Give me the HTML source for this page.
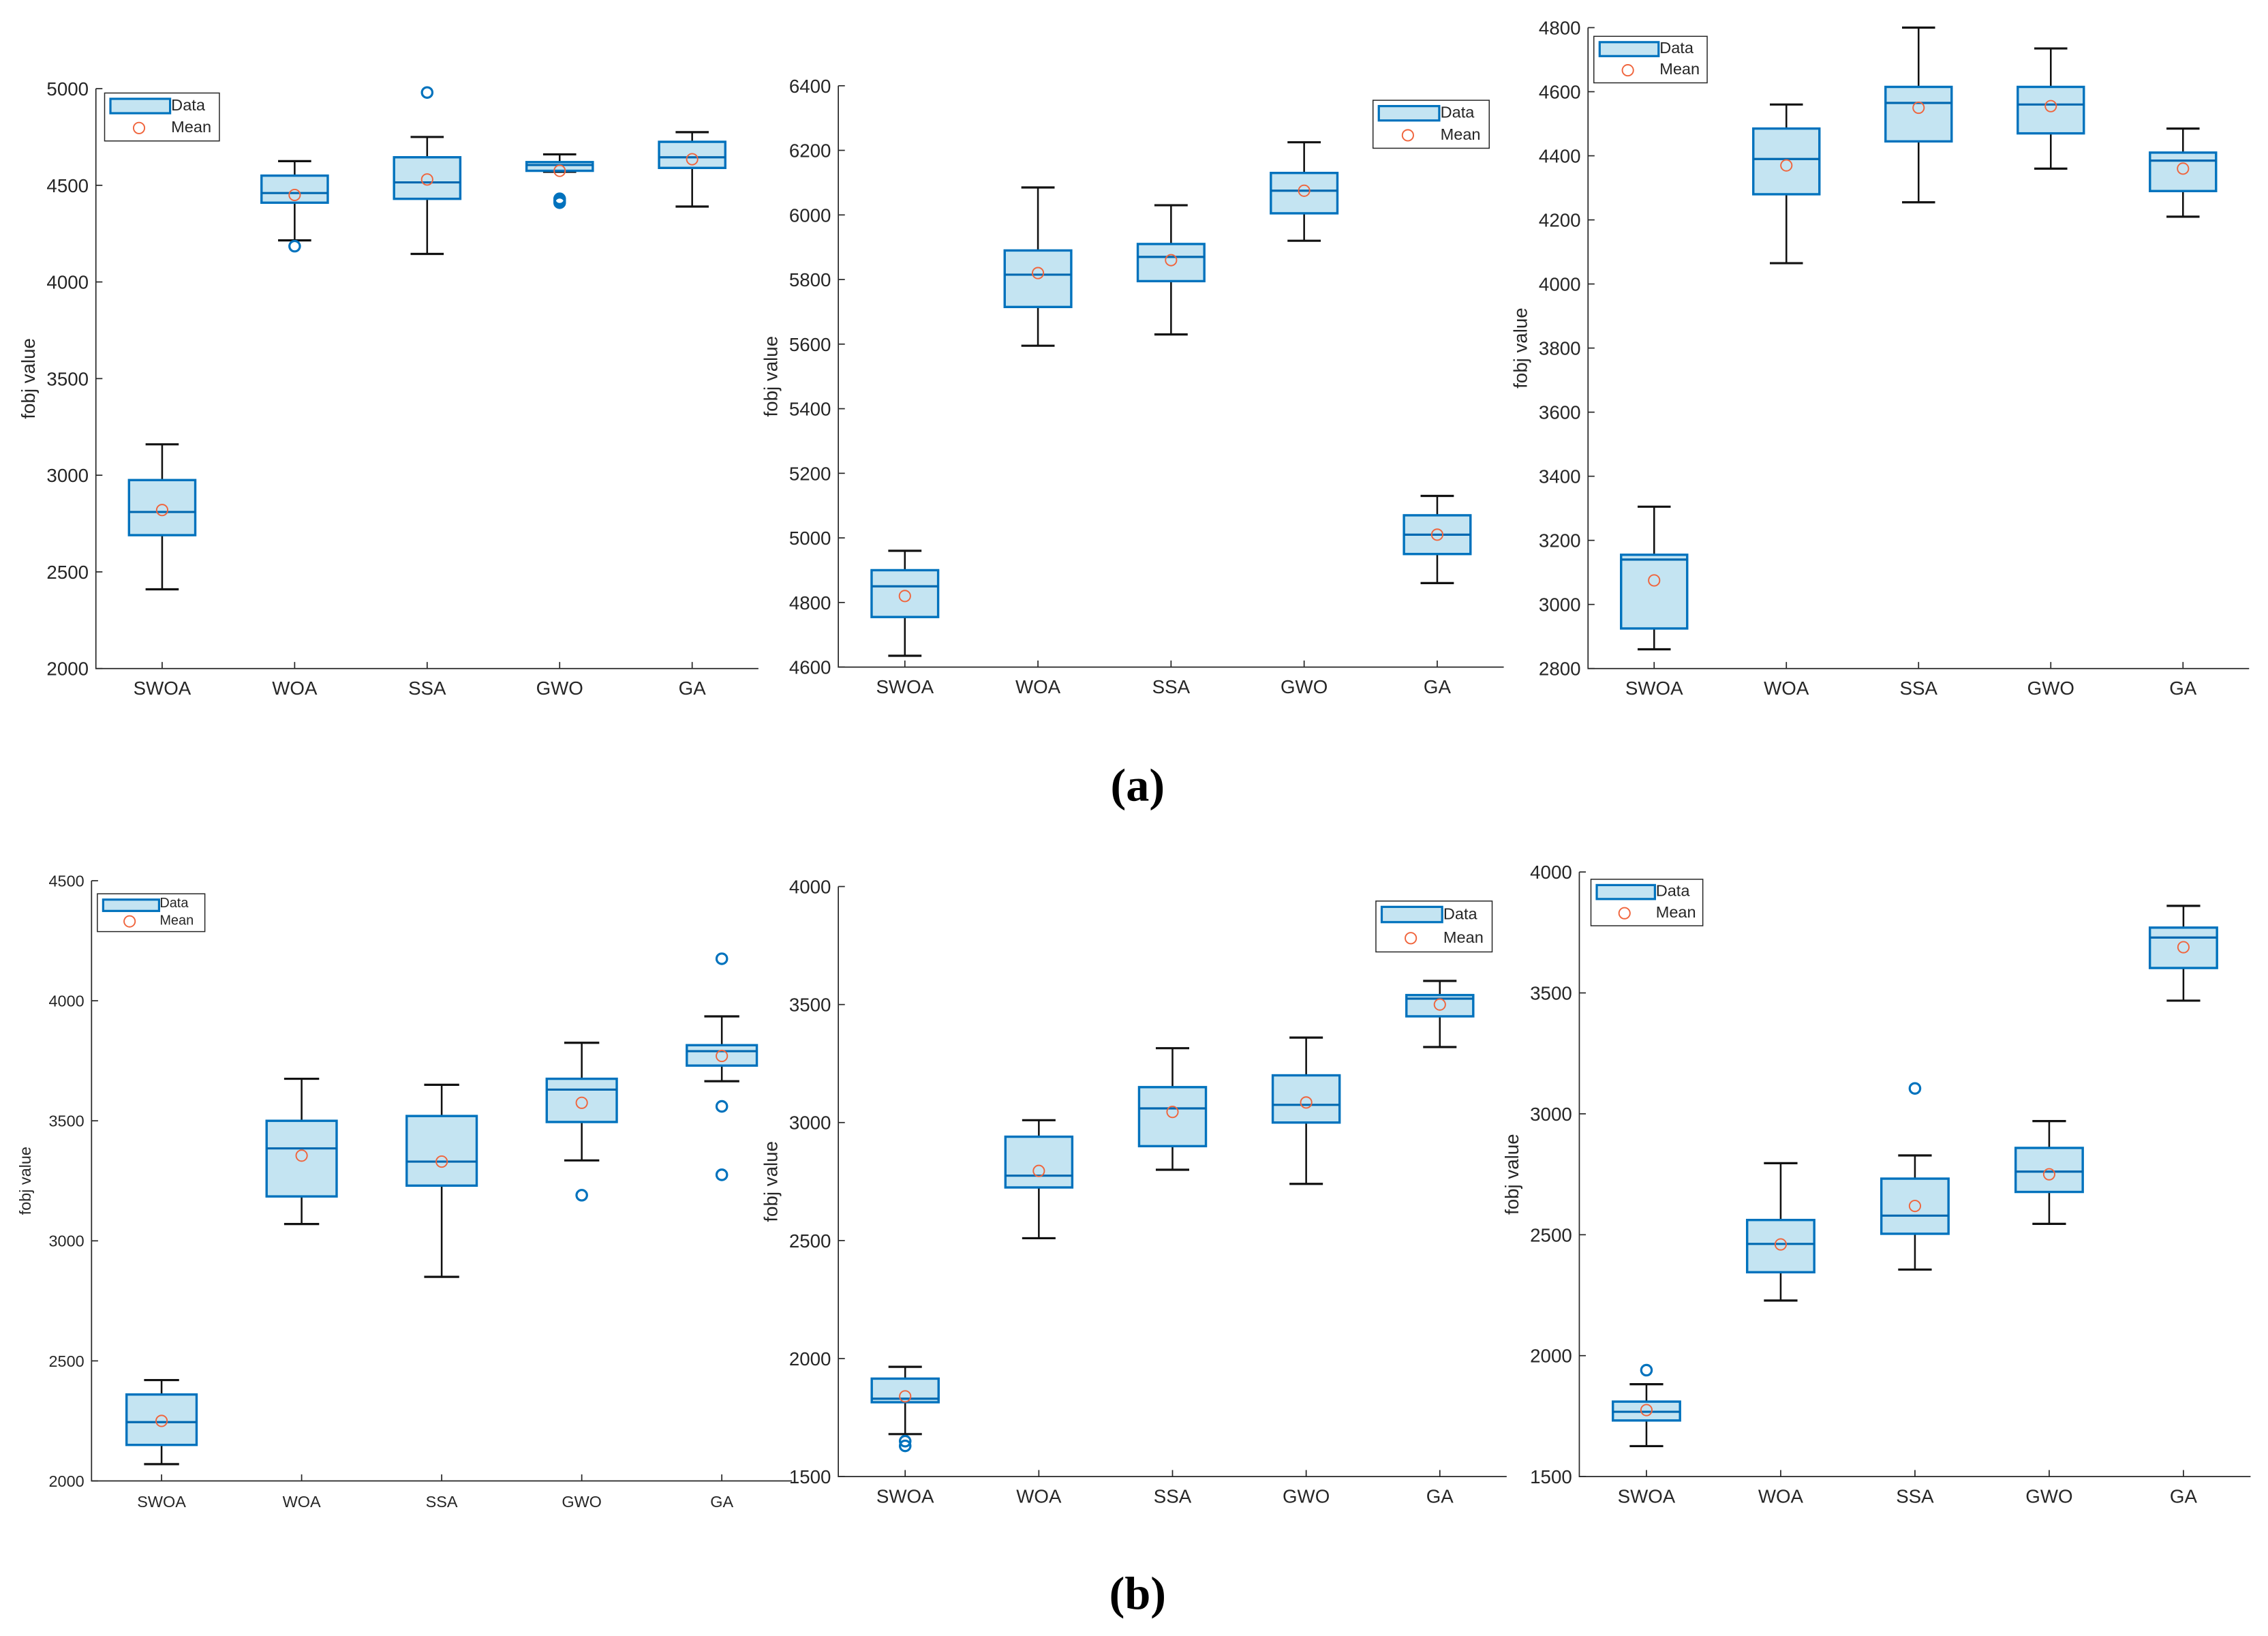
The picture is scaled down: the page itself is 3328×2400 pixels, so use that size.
<!DOCTYPE html>
<html><head><meta charset="utf-8">
<style>
html,body{margin:0;padding:0;background:#fff;}
svg{display:block;}
text{font-family:"Liberation Sans",Arial,sans-serif;fill:#262626;}
</style></head>
<body>
<svg id="fig" xmlns="http://www.w3.org/2000/svg" width="3328" height="2400" viewBox="0 0 1561 1125.7" preserveAspectRatio="none">
<rect x="0" y="0" width="1561" height="1126" fill="#fff"/>
<text x="783" y="551" text-anchor="middle" font-size="32" font-weight="bold" style="font-family:'Liberation Serif',serif;fill:#000">(a)</text>
<text x="783" y="1107" text-anchor="middle" font-size="32" font-weight="bold" style="font-family:'Liberation Serif',serif;fill:#000">(b)</text>
</svg>
<script>
const categories = ["SWOA","WOA","SSA","GWO","GA"];

const a1_low = [2410,4215,4145,4570,4390];
const a1_q1 = [2690,4410,4430,4575,4590];
const a1_med = [2810,4460,4515,4605,4645];
const a1_q3 = [2975,4550,4645,4620,4725];
const a1_high = [3160,4625,4750,4660,4775];
const a1_mean = [2820,4450,4530,4575,4635];
const a1_out = [[],[4185],[4980],[4410,4430,4420],[]];
const a1_ticks = [2000,2500,3000,3500,4000,4500,5000];

const a2_low = [4635,5595,5630,5920,4860];
const a2_q1 = [4755,5715,5795,6005,4950];
const a2_med = [4850,5815,5870,6075,5010];
const a2_q3 = [4900,5890,5910,6130,5070];
const a2_high = [4960,6085,6030,6225,5130];
const a2_mean = [4820,5820,5860,6075,5010];
const a2_out = [[],[],[],[],[]];
const a2_ticks = [4600,4800,5000,5200,5400,5600,5800,6000,6200,6400];

const a3_low = [2860,4065,4255,4360,4210];
const a3_q1 = [2925,4280,4445,4470,4290];
const a3_med = [3140,4390,4565,4560,4385];
const a3_q3 = [3155,4485,4615,4615,4410];
const a3_high = [3305,4560,4800,4735,4485];
const a3_mean = [3075,4370,4550,4555,4360];
const a3_out = [[],[],[],[],[]];
const a3_ticks = [2800,3000,3200,3400,3600,3800,4000,4200,4400,4600,4800];

const b1_low = [2070,3070,2850,3335,3665];
const b1_q1 = [2150,3185,3230,3495,3730];
const b1_med = [2245,3385,3330,3630,3790];
const b1_q3 = [2360,3500,3520,3675,3815];
const b1_high = [2420,3675,3650,3825,3935];
const b1_mean = [2250,3355,3330,3575,3770];
const b1_out = [[],[],[],[3190],[4175,3560,3275]];
const b1_ticks = [2000,2500,3000,3500,4000,4500];

const b2_low = [1680,2510,2800,2740,3320];
const b2_q1 = [1815,2725,2900,3000,3450];
const b2_med = [1830,2775,3060,3075,3525];
const b2_q3 = [1915,2940,3150,3200,3540];
const b2_high = [1965,3010,3315,3360,3600];
const b2_mean = [1840,2795,3045,3085,3500];
const b2_out = [[1650,1630],[],[],[],[]];
const b2_ticks = [1500,2000,2500,3000,3500,4000];

const b3_low = [1626,2228,2356,2545,3468];
const b3_q1 = [1732,2345,2504,2677,3603];
const b3_med = [1768,2462,2579,2761,3729];
const b3_q3 = [1810,2561,2732,2859,3770];
const b3_high = [1882,2796,2828,2970,3860];
const b3_mean = [1775,2460,2619,2750,3689];
const b3_out = [[1940],[],[3105],[],[]];
const b3_ticks = [1500,2000,2500,3000,3500,4000];

const NS = "http://www.w3.org/2000/svg";
const svg = document.getElementById("fig");
function mk(tag, attrs, parent){
  const e = document.createElementNS(NS, tag);
  for (const k in attrs) e.setAttribute(k, attrs[k]);
  (parent||svg).appendChild(e);
  return e;
}
function panel(id, L, R, T, B, ymin, ymax, ticks, low, q1, med, q3, high, mean, outs, leg, fs){
  const g = mk("g", {});
  
  
  const yS = v => B - (v - ymin) / (ymax - ymin) * (B - T);
  const xS = i => L + (R - L) * (i + 0.5) / categories.length;
  const axis = mk("path", {d:`M${L},${T} L${L},${B} L${R},${B}`, stroke:"#262626", "stroke-width":0.8, fill:"none"}, g);
  
  
  ticks.forEach(t => {
    const y = yS(t);
    mk("line", {x1:L, x2:L+4.5, y1:y, y2:y, stroke:"#262626", "stroke-width":0.8}, g);
    const tx = mk("text", {x:L-5, y:y+fs*0.36, "text-anchor":"end", "font-size":fs}, g);
    tx.textContent = t;
    
    
  });
  const yl = mk("text", {transform:`translate(${L-42},${(T+B)/2}) rotate(-90)`, "text-anchor":"middle", "font-size":fs}, g);
  yl.textContent = "fobj value";
  
  
  const bw = (R - L) / categories.length * 0.5;
  categories.forEach((c, i) => {
    const x = xS(i);
    mk("line", {x1:x, x2:x, y1:B, y2:B-4.5, stroke:"#262626", "stroke-width":0.8}, g);
    const tl = mk("text", {x:x, y:B+18, "text-anchor":"middle", "font-size":fs}, g);
    tl.textContent = c;
    
    
    const bg = mk("g", {}, g);
    
    
    mk("line", {x1:x, x2:x, y1:yS(high[i]), y2:yS(q3[i]), stroke:"#111", "stroke-width":1.2}, bg);
    mk("line", {x1:x, x2:x, y1:yS(q1[i]), y2:yS(low[i]), stroke:"#111", "stroke-width":1.2}, bg);
    mk("line", {x1:x-bw/4, x2:x+bw/4, y1:yS(high[i]), y2:yS(high[i]), stroke:"#111", "stroke-width":1.5}, bg);
    mk("line", {x1:x-bw/4, x2:x+bw/4, y1:yS(low[i]), y2:yS(low[i]), stroke:"#111", "stroke-width":1.5}, bg);
    mk("rect", {x:x-bw/2, y:yS(q3[i]), width:bw, height:Math.max(yS(q1[i])-yS(q3[i]),0.5), fill:"#c4e4f2", stroke:"#0072bd", "stroke-width":1.6}, bg);
    mk("line", {x1:x-bw/2, x2:x+bw/2, y1:yS(med[i]), y2:yS(med[i]), stroke:"#0068b0", "stroke-width":1.5}, bg);
    outs[i].forEach(o => {
      const oc = mk("circle", {cx:x, cy:yS(o), r:3.6, fill:"none", stroke:"#0072bd", "stroke-width":1.5}, bg);
      
      
    });
    const mc = mk("circle", {cx:x, cy:yS(mean[i]), r:3.8, fill:"none", stroke:"#f0643c", "stroke-width":0.9}, bg);
    
    
  });
  const [lx, ly, lw, lh] = leg;
  const lg = mk("g", {}, g);
  
  
  mk("rect", {x:lx, y:ly, width:lw, height:lh, fill:"#fff", stroke:"#262626", "stroke-width":0.7}, lg);
  mk("rect", {x:lx+4, y:ly+4, width:lw*0.52, height:lh*0.3, fill:"#c4e4f2", stroke:"#0072bd", "stroke-width":1.5}, lg);
  const t1 = mk("text", {x:lx+lw*0.58, y:ly+lh*0.36, "font-size":fs*0.85}, lg);
  t1.textContent = "Data";
  
  
  mk("circle", {cx:lx+lw*0.3, cy:ly+lh*0.73, r:3.8, fill:"none", stroke:"#f0643c", "stroke-width":0.9}, lg);
  const t2 = mk("text", {x:lx+lw*0.58, y:ly+lh*0.82, "font-size":fs*0.85}, lg);
  t2.textContent = "Mean";
  
  
}
panel("a1", 66, 522, 61, 460, 2000, 5000, a1_ticks, a1_low, a1_q1, a1_med, a1_q3, a1_high, a1_mean, a1_out, [72,64,79,33], 13);
panel("a2", 577, 1035, 59, 459, 4600, 6400, a2_ticks, a2_low, a2_q1, a2_med, a2_q3, a2_high, a2_mean, a2_out, [945,69,80,33], 13);
panel("a3", 1093, 1548, 19, 460, 2800, 4800, a3_ticks, a3_low, a3_q1, a3_med, a3_q3, a3_high, a3_mean, a3_out, [1097,25,78,32], 13);
panel("b1", 63, 545, 606, 1019, 2000, 4500, b1_ticks, b1_low, b1_q1, b1_med, b1_q3, b1_high, b1_mean, b1_out, [67,615,74,26], 11);
panel("b2", 577, 1037, 610, 1016, 1500, 4000, b2_ticks, b2_low, b2_q1, b2_med, b2_q3, b2_high, b2_mean, b2_out, [947,620,80,35], 13);
panel("b3", 1087, 1549, 600, 1016, 1500, 4000, b3_ticks, b3_low, b3_q1, b3_med, b3_q3, b3_high, b3_mean, b3_out, [1095,605,77,32], 13);
</script>
</body></html>
